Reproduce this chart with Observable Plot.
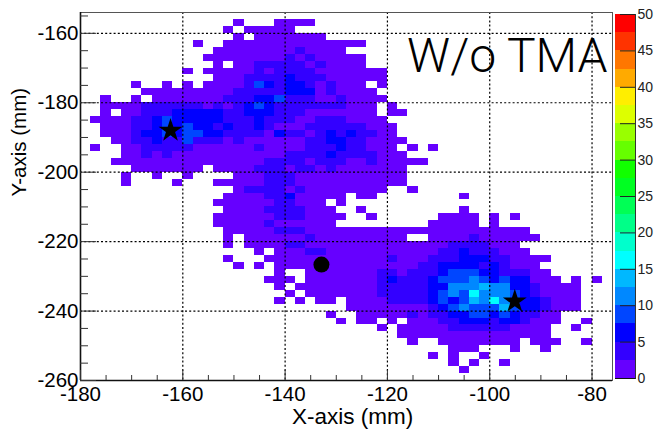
<!DOCTYPE html>
<html><head><meta charset="utf-8">
<script src="https://cdn.jsdelivr.net/npm/d3@7"></script>
<script src="https://cdn.jsdelivr.net/npm/@observablehq/plot@0.6"></script>
<style>
html,body{margin:0;padding:0;background:#fff}
#w{position:relative;width:654px;height:429px;overflow:hidden}
#w svg{position:absolute;left:0;top:0}
</style></head><body><div id="w"></div>
<script>
// Histogram rows, top (-154) to bottom (-260), 2 mm bins; "a-b:L" = columns a..b at colour level L (default 0)
const rowsTop = ["","15 19-22","14 16-20","15 17-23","11 14-27","13-20 21:1 22-25","12-19 20:1 21 22:1 23-27",
"13 15-16 17-21:1 22 23:1 24-27","10 12-16 17:1 18 19-22:1 23-29","13-15 16-19:1 20:2 21-23:1 24-29",
"5 8 10 12-15 16:1 17:3 18:2 19:1 20-21:2 22:1 23 24:1 25-27 29","6-14 15-19:1 20-22:2 23 24:1 25-28",
"2 5 7-13 14-16:1 17-18:2 19:3 20-22:1 23-24 25:1 26-29","2-5 6-11:1 12 13:1 14 15:1 16:2 17:3 18:2 19-25:1 26-28 30",
"2 4-5 6-8:1 9-13:2 14-15:1 16-18:2 19-21:1 22-28 30-31","1-4 5-6:1 7:2 8:3 9-13:2 14-16:1 17:2 18-20:1 21-22 23-25:1 26-29",
"2-4 5-6:1 7:2 8:3 9:2 10:3 11-12:2 13:1 14:2 15-16:1 17:2 18:1 19-21 22-27:1 28-30"];
const rowsMid = ["2-4 5:1 6-7:2 8:3 9:2 10-11:3 12-13:2 14-17:1 18 19:2 20-21:1 22 23:1 24:2 25:1 26:2 27-28:1 29-30",
"3-4 5-6:1 7:2 8-9:1 10:3 11-13:1 14 15:1 16-21 22-23:1 24-25:2 26-27:1 28-31","1 4-5 6-10:1 11-16 17:1 18-21 22-24:1 25:2 26-27:1 28-30 32 34",
"4-5 6:1 7 8:1 9-19 20-23:1 24:2 25-28:1 29-31","3-17 18-21:1 22 23-25:1 26-27 28:1 29-33","5-11 13-16 17-19:1 20 21-22:1 23 24:1 25-31",
"4 7 10 15-17 18-20:1 21-31","4 9 13-17 18-20:1 21-31","15 16-19:1 20 21:1 22-29 32","14-17 18-19:1 20:2 21-25 27-28 37","13-18 19-20:1 21-23 25",
"14-17 18-21:1 22-24 27 37","13-18 19-21:1 22-25 28 35-38 40 42","13-17 18:1 19-24 34-38 40","14-18 19-21:1 22-43","14 16-21 22:1 23-31 34-37 38:1 39-44",
"14 16-19 20-21:1 22-35 36-39:1 40-42","17 19-21 22-23:1 24-34 35-36:1 37:2 38-40:1 41-43"];
const rowsLow = ["14 18-29 30:1 31-33 34-36:1 37-39:2 40-41:1 42-45","15 17 19-32 33-34:1 35-38:2 39:1 40:2 41:1 42-44",
"19 22-28 29-30:1 31 32-34:1 35:2 36-38:3 39-40:2 41-43:1 44-45","18-20 22-28 29:1 30:2 31-33:1 34:2 35-37:3 38:4 39:3 40:2 41:3 42-43:2 44-46 48 50",
"19 21-28 29-33:1 34-35:2 36-38:4 39:5 40-41:4 42-43:2 44:1 45-48","20 22-28 29-33:1 34:2 35:3 36:4 37:3 38:6 39-41:4 42:3 43:2 44:1 45-48",
"19 21 23-24 26-29 30-33:1 34:2 35:3 36:2 37:3 38:5 39:4 40:6 41:4 42:3 43-44:2 45:1 46-48","26-33 34:1 35:2 36:3 37:4 38-40:3 41:5 42:3 43-44:2 45:1 46-48",
"24 27-31 32:1 33 34-35:1 36-37:2 38-39:3 40:2 41:3 42:2 43-44:1 45-46","25 27-28 30 32-34 35-36:1 37-39:2 40:1 41-42:2 43:1 44-46 49",
"29 31-35 36-41:1 42-45 48","31-45","32 35-42 44-46 49","36-38 42 45","34 36 39","36 38 41","37",""];
const palette = ["#6600ff","#3300ff","#0000ff","#0046ff","#0088ff","#00b8ff","#00ffff","#00ffcc","#00ff88","#00ff55","#00ff22","#11ff00","#66ff00","#99ff00","#ddff00","#ffee00","#ffaa00","#ff7700","#ff3300","#ff0000"];
const levelEdges = d3.range(2.5,50,2.5);
const xMajor = [-180,-160,-140,-120,-100,-80];
const xMinor = [-175,-170,-165,-155,-150,-145,-135,-130,-125,-115,-110,-105,-95,-90,-85];
const yMajor = [-260,-240,-220,-200,-180,-160];
const yMinor = [-255,-250,-245,-235,-230,-225,-215,-210,-205,-195,-190,-185,-175,-170,-165,-155];
const stars = [{x:-162.4,y:-188},{x:-95.1,y:-237.2}];
const circles = [{x:-132.9,y:-226.6}];
const barTicks = [0,5,10,15,20,25,30,35,40,45,50];

const cells = [];
[...rowsTop,...rowsMid,...rowsLow].forEach((row,j)=>{
  row.split(" ").filter(Boolean).forEach(run=>{
    const [span,lvl="0"]=run.split(":");
    const [a,b=a]=span.split("-").map(Number);
    for(let i=a;i<=b;i++){
      const top=-154-2*j, left=-180+2*i;
      cells.push({x1:left,x2:left+2,y1:top-2,y2:top,value:1.25+2.5*(+lvl)});
    }
  });
});
const font='"Liberation Sans",Arial,sans-serif';
const fmt=d=>String(d);
const main=Plot.plot({
  width:654,height:429,marginLeft:80,marginRight:42,marginTop:12,marginBottom:49,
  style:{background:"transparent",fontFamily:font,overflow:"visible"},
  x:{domain:[-180,-76],axis:null},
  y:{domain:[-260,-154],axis:null},
  color:{type:"threshold",domain:levelEdges,range:palette},
  marks:[
    Plot.rect(cells,{x1:"x1",x2:"x2",y1:"y1",y2:"y2",fill:"value",shapeRendering:"crispEdges"}),
    Plot.ruleX(xMajor.slice(1),{stroke:"#000",strokeWidth:1.2,strokeDasharray:"2,2.2"}),
    Plot.ruleY(yMajor.slice(1),{stroke:"#000",strokeWidth:1.2,strokeDasharray:"2,2.2"}),
    Plot.frame({stroke:"#555",strokeWidth:1}),
    Plot.ruleX([-180],{stroke:"#111",strokeWidth:1.6}),
    Plot.ruleY([-260],{stroke:"#111",strokeWidth:1.6}),
    Plot.axisX({ticks:xMinor,tickSize:-5,tickFormat:null,text:null,stroke:"#333",label:null,anchor:"bottom"}),
    Plot.axisX({ticks:xMajor,tickSize:-10,tickPadding:16,tickFormat:fmt,stroke:"#333",fill:"#000",fontSize:20.5,label:null,anchor:"bottom"}),
    Plot.axisY({ticks:yMinor,tickSize:-8,text:null,stroke:"#333",label:null,anchor:"left"}),
    Plot.axisY({ticks:yMajor,tickSize:-16,tickPadding:18,tickFormat:fmt,stroke:"#333",fill:"#000",fontSize:20.5,label:null,anchor:"left"}),
    Plot.dot(stars,{x:"x",y:"y",symbol:"star",r:7.5,fill:"#000"}),
    Plot.dot(circles,{x:"x",y:"y",r:8,fill:"#000"}),
    Plot.text(["W/o TMA"],{frameAnchor:"top-right",dx:-5,dy:25,fontSize:48,fontWeight:300,fontFamily:"Roboto",fill:"#000",lineAnchor:"top"}),
    Plot.text(["X-axis (mm)"],{frameAnchor:"bottom",dx:6,dy:43,fontSize:22.5,fill:"#000",lineAnchor:"bottom"}),
    Plot.text(["Y-axis (mm)"],{frameAnchor:"left",rotate:-90,dx:-61,dy:0,fontSize:20.5,fill:"#000"})
  ]
});
const levels=d3.range(20).map(k=>({a:k*2.5,b:(k+1)*2.5,v:k*2.5+1.25}));
const bar=Plot.plot({
  width:654,height:429,marginLeft:615,marginRight:19,marginTop:14,marginBottom:51,
  style:{background:"transparent",fontFamily:font,overflow:"visible"},
  x:{domain:[0,1],axis:null},
  y:{domain:[0,50],axis:null},
  color:{type:"threshold",domain:levelEdges,range:palette},
  marks:[
    Plot.rect(levels,{x1:0,x2:1,y1:"a",y2:"b",fill:"v",shapeRendering:"crispEdges"}),
    Plot.axisY({anchor:"right",ticks:barTicks,tickSize:-16,tickPadding:18,tickFormat:fmt,stroke:"#222",fill:"#222",fontSize:14,label:null,textAnchor:"start"}),
    Plot.ruleX([1],{stroke:"#333"}),
    Plot.ruleY([0],{stroke:"#111"})
  ]
});
document.getElementById("w").append(main,bar);
</script></body></html>
